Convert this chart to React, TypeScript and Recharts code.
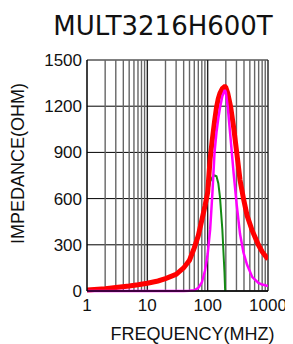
import React from 'react';
import {
  LineChart,
  Line,
  XAxis,
  YAxis,
  CartesianGrid,
  ReferenceLine
} from 'recharts';

// frequency points (MHz) shared by all three curves
const freqs = [1, 2, 3, 5, 7, 10, 15, 20, 30, 40, 50, 60, 70, 80, 90, 100, 110, 120, 130, 140, 150, 160, 175, 190, 195, 200, 215, 240, 270, 303, 344, 392, 450, 550, 693, 800, 1000];

// |Z| impedance (red)
const zValues = [6, 15, 22, 32, 40, 50, 65, 80, 108, 150, 200, 280, 360, 460, 550, 640, 860, 990, 1100, 1190, 1250, 1285, 1315, 1327, 1327, 1322, 1285, 1197, 1060, 900, 720, 600, 490, 390, 300, 255, 206];

// R resistance (magenta)
const rValues = [0, 0, 0, 0, 0, 0, 0, 0, 0, 0, 1, 5, 20, 55, 130, 240, 400, 640, 900, 1030, 1120, 1190, 1265, 1300, 1300, 1290, 1197, 990, 760, 560, 370, 250, 170, 90, 52, 42, 32];

// X reactance (green), cut where it goes negative
const xValues = [6, 15, 22, 32, 40, 50, 65, 80, 108, 150, 200, 278, 355, 450, 535, 630, 710, 740, 750, 745, 700, 610, 400, 120, 0, null, null, null, null, null, null, null, null, null, null, null, null];

const xTicks = [1, 10, 100, 1000];
const yTicks = [0, 300, 600, 900, 1200, 1500];
const minorLines = [2, 3, 4, 5, 6, 7, 8, 9, 20, 30, 40, 50, 60, 70, 80, 90, 200, 300, 400, 500, 600, 700, 800, 900];
const decadeLines = [10, 100, 1000];

const data = freqs.map((f, i) => ({ f, z: zValues[i], r: rValues[i], x: xValues[i] }));

const axisFont = 'Liberation Sans, Arial, sans-serif';

const XLabel = (props: any) => {
  const vb = props.viewBox;
  return (
    <text x={vb.x + vb.width / 2 + 15} y={vb.y + 49} textAnchor="middle" fontSize={18} fontFamily={axisFont} fill="#111">
      FREQUENCY(MHZ)
    </text>
  );
};

const YLabel = (props: any) => {
  const vb = props.viewBox;
  const cx = vb.x + 15.5;
  const cy = vb.y + vb.height / 2 - 12;
  return (
    <text x={cx} y={cy} transform={`rotate(-90, ${cx}, ${cy})`} textAnchor="middle" fontSize={18} fontFamily={axisFont} fill="#111">
      IMPEDANCE(OHM)
    </text>
  );
};

export default function App() {
  return (
    <div style={{ position: 'relative', width: 285, height: 336 }}>
      <style>{'body { overflow: hidden; }'}</style>
      <div
        style={{
          position: 'absolute',
          top: 3,
          left: 155,
          transform: 'translateX(-50%)',
          whiteSpace: 'nowrap',
          fontFamily: 'DejaVu Sans, sans-serif',
          fontSize: 26,
          lineHeight: '30px',
          color: '#111'
        }}
      >
        MULT3216H600T
      </div>
      <LineChart width={285} height={336} data={data} margin={{ top: 52, right: 25, left: 0, bottom: 0 }}>
        <CartesianGrid vertical={false} stroke="#000" strokeWidth={1} />
        {minorLines.map((v) => (
          <ReferenceLine key={`m-${v}`} x={v} stroke="#666" strokeWidth={1.4} />
        ))}
        {decadeLines.map((v) => (
          <ReferenceLine key={`d-${v}`} x={v} stroke="#222" strokeWidth={1.4} />
        ))}
        <XAxis
          dataKey="f"
          type="number"
          scale="log"
          domain={[1, 1000]}
          ticks={xTicks}
          interval={0}
          allowDataOverflow
          height={53}
          tickLine={false}
          tickSize={0}
          tickMargin={8}
          axisLine={{ stroke: '#000', strokeWidth: 1.5 }}
          tick={{ fontSize: 17, fontFamily: axisFont, fill: '#111' }}
          label={XLabel}
        />
        <YAxis
          type="number"
          domain={[0, 1500]}
          ticks={yTicks}
          interval={0}
          width={79}
          tickLine={false}
          tickSize={0}
          tickMargin={5}
          axisLine={{ stroke: '#000', strokeWidth: 1.5 }}
          tick={{ fontSize: 17, fontFamily: axisFont, fill: '#111' }}
          label={YLabel}
        />
        <Line dataKey="x" stroke="#138a13" strokeWidth={2} dot={false} isAnimationActive={false} connectNulls={false} />
        <Line dataKey="z" stroke="#ff0000" strokeWidth={5} dot={false} isAnimationActive={false} />
        <Line dataKey="r" stroke="#ff00ff" strokeWidth={2.5} dot={false} isAnimationActive={false} />
      </LineChart>
    </div>
  );
}
